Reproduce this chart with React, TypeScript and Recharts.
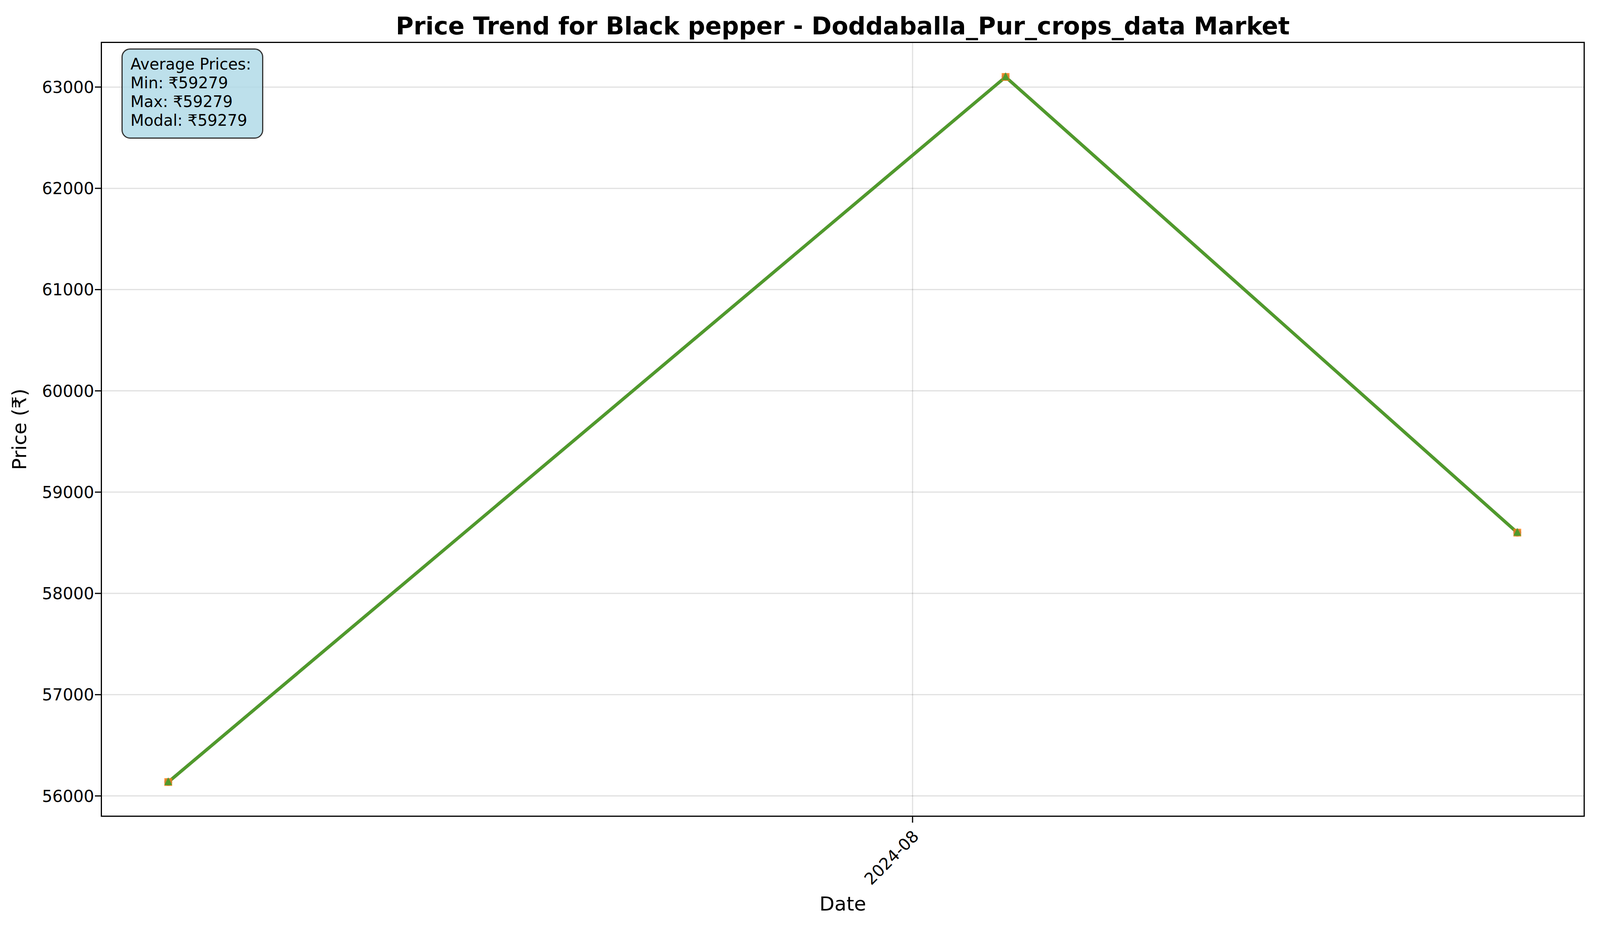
import React from "react";
import { LineChart, Line, XAxis, YAxis, CartesianGrid } from "recharts";

// x = days relative to 2024-08-01
const days = [-32, 4, 26];
const minPrice = [56137, 63100, 58600];
const maxPrice = [56137, 63100, 58600];
const modalPrice = [56137, 63100, 58600];
const yTicks = [56000, 57000, 58000, 59000, 60000, 61000, 62000, 63000];
const xTicks = [0];
const xTickLabels = ["2024-08"];

const data = days.map((d, i) => ({ d, min: minPrice[i], max: maxPrice[i], modal: modalPrice[i] }));
const F = "DejaVu Sans, sans-serif";

const Tri = (p: any) => <polygon points={`${p.cx},${p.cy - 12} ${p.cx - 10},${p.cy + 8} ${p.cx + 10},${p.cy + 8}`} fill="#2ca02c" fillOpacity={0.8} />;
const Sq = (p: any) => <rect x={p.cx - 10} y={p.cy - 10} width={20} height={20} fill="#ff7f0e" fillOpacity={0.8} />;

const XTick = (p: any) => (
  <text x={p.x} y={p.y + 10} transform={`rotate(-45 ${p.x} ${p.y + 10})`} textAnchor="end" dominantBaseline="hanging" fontSize={42} fontFamily={F} fill="#000" dx={-5}>
    {xTickLabels[xTicks.indexOf(p.payload.value)]}
  </text>
);

export default function App() {
  const legend = [
    { n: "Min Price", c: "#1f77b4", m: "c" },
    { n: "Max Price", c: "#ff7f0e", m: "s" },
    { n: "Modal Price", c: "#2ca02c", m: "t" },
  ];
  return (
    <div style={{ position: "relative", width: 4642, height: 2350, fontFamily: F, background: "#fff" }}>
      <LineChart width={4642} height={2350} data={data} margin={{ top: 99, right: 593, left: 0, bottom: 0 }}>
        <CartesianGrid stroke="#000" strokeOpacity={0.12} strokeWidth={3} horizontalValues={yTicks} verticalValues={xTicks} />
        <XAxis dataKey="d" type="number" domain={[-34.9, 28.9]} ticks={xTicks} height={267} tick={<XTick />} tickSize={15} axisLine={false} tickLine={{ stroke: "#000", strokeWidth: 3 }} />
        <YAxis type="number" domain={[55794, 63447]} ticks={yTicks} width={250} tick={{ fontSize: 42, fill: "#000", fontFamily: F }} tickSize={15} axisLine={false} tickLine={{ stroke: "#000", strokeWidth: 3 }} />
        <Line dataKey="min" stroke="#1f77b4" strokeOpacity={0.8} strokeWidth={8} dot={{ r: 10, fill: "#1f77b4", fillOpacity: 0.8, stroke: "none" }} isAnimationActive={false} />
        <Line dataKey="max" stroke="#ff7f0e" strokeOpacity={0.8} strokeWidth={8} dot={<Sq />} isAnimationActive={false} />
        <Line dataKey="modal" stroke="#2ca02c" strokeOpacity={0.8} strokeWidth={8} dot={<Tri />} isAnimationActive={false} />
      </LineChart>
      <div style={{ position: "absolute", left: 250, top: 99, width: 3799, height: 1984, border: "3px solid #000", boxSizing: "border-box", pointerEvents: "none" }} />
      <div style={{ position: "absolute", left: 250, width: 3799, top: 22, textAlign: "center", fontSize: 62, fontWeight: "bold", whiteSpace: "nowrap" }}>
        Price Trend for Black pepper - Doddaballa_Pur_crops_data Market
      </div>
      <div style={{ position: "absolute", left: 250, width: 3799, top: 2277, textAlign: "center", fontSize: 50 }}>Date</div>
      <div style={{ position: "absolute", left: 42, top: 1091, transform: "translate(-50%,-50%) rotate(-90deg)", fontSize: 50, whiteSpace: "nowrap" }}>Price (₹)</div>
      <div style={{ position: "absolute", left: 303, top: 116, width: 363, height: 231, boxSizing: "border-box", background: "rgba(173,216,230,0.8)", border: "3px solid #333", borderRadius: 22, padding: "13px 0 0 20px", fontSize: 40, lineHeight: "48px", whiteSpace: "nowrap" }}>
        Average Prices:<br />Min: ₹59279<br />Max: ₹59279<br />Modal: ₹59279
      </div>
      <div style={{ position: "absolute", left: 4156, top: 974, width: 472, height: 233, boxSizing: "border-box", background: "#fff", border: "3px solid #d6d6d6", borderRadius: 12, padding: "11px 0 0 13px" }}>
        {legend.map((l) => (
          <div key={l.n} style={{ display: "flex", alignItems: "center", height: 73, fontSize: 48, whiteSpace: "nowrap" }}>
            <svg width={109} height={30} style={{ marginRight: 36, flexShrink: 0 }}>
              <line x1={0} x2={109} y1={15} y2={15} stroke={l.c} strokeOpacity={0.8} strokeWidth={8} />
              {l.m === "c" && <circle cx={54} cy={15} r={10} fill={l.c} fillOpacity={0.8} />}
              {l.m === "s" && <rect x={44} y={5} width={20} height={20} fill={l.c} fillOpacity={0.8} />}
              {l.m === "t" && <polygon points="54,2 44,25 64,25" fill={l.c} fillOpacity={0.8} />}
            </svg>
            {l.n}
          </div>
        ))}
      </div>
    </div>
  );
}
